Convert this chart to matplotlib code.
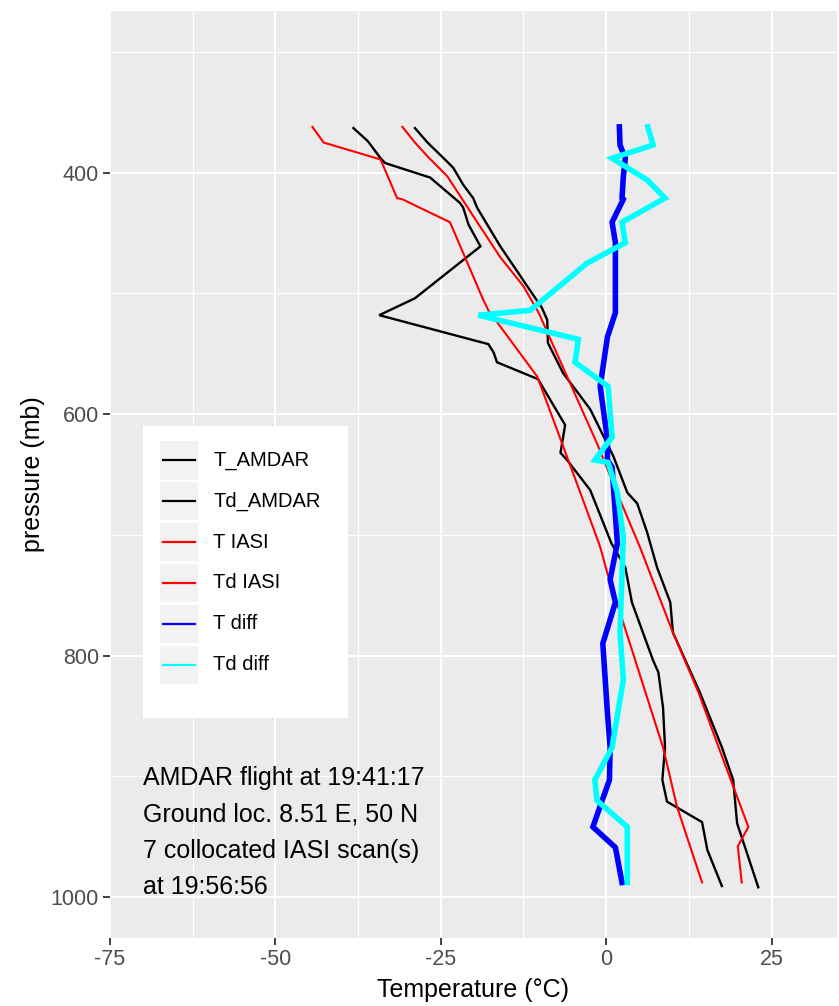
import matplotlib
matplotlib.use("Agg")
import matplotlib.pyplot as plt
from matplotlib.patches import Rectangle
from matplotlib.lines import Line2D

plt.rcParams['font.family'] = ['Liberation Sans', 'DejaVu Sans']
plt.rcParams['axes.unicode_minus'] = False

# ---- profiles (pressure in mb, temperature in degC) ----
p_t_amdar = [363, 375, 391, 396, 410, 421, 429, 461, 512, 522, 541, 566, 596,
             635, 665, 674, 698, 727, 756, 781, 831, 876, 903, 939, 992]
t_amdar = [-28.9, -27.0, -24.0, -23.1, -21.6, -20.1, -19.5, -16.0, -9.7, -8.9,
           -8.8, -6.5, -2.4, 1.1, 3.2, 4.7, 6.2, 7.7, 9.7, 10.1, 14.2, 17.5,
           19.2, 19.8, 23.0]

p_td_amdar = [363, 374, 388, 392, 404, 425, 429, 443, 461, 504, 518, 542, 549,
              557, 571, 609, 632, 638, 663, 707, 727, 756, 804, 814, 843, 876,
              903, 921, 938, 961, 991]
td_amdar = [-38.2, -36.0, -34.1, -33.4, -26.6, -22.1, -21.6, -20.8, -19.0,
            -28.9, -34.3, -17.8, -17.0, -16.5, -10.3, -6.2, -6.9, -5.9, -2.4,
            0.8, 2.9, 3.9, 7.1, 7.9, 8.6, 8.9, 8.5, 9.2, 14.5, 15.3, 17.5]

p_t_iasi = [362, 375, 387, 403, 440, 470, 494, 516, 570, 624, 671, 710, 781,
            831, 870, 942, 958, 988]
t_iasi = [-30.8, -28.9, -26.9, -24.0, -19.6, -16.0, -12.5, -10.2, -5.8, -1.4,
          2.1, 5.1, 10.1, 14.0, 16.6, 21.5, 19.9, 20.5]

p_td_iasi = [362, 375, 389, 421, 422, 441, 505, 514, 569, 671, 710, 732, 773,
             876, 925, 988]
td_iasi = [-44.4, -42.7, -34.1, -31.6, -30.8, -23.6, -18.6, -17.8, -10.4, -3.5,
           -0.9, 0.2, 2.6, 8.6, 10.7, 14.5]

p_t_diff = [362, 377, 388, 403, 421, 422, 441, 458, 516, 536, 577, 621, 638,
            644, 707, 737, 756, 790, 848, 876, 903, 942, 959, 988]
t_diff = [2.0, 2.1, 2.9, 2.6, 2.4, 2.6, 0.9, 1.4, 1.4, 0.2, -0.9, 0.2, 0.2,
          0.9, 1.7, 0.6, 1.4, -0.5, 0.2, 0.6, 0.5, -2.0, 1.4, 2.4]

p_td_diff = [362, 377, 388, 406, 421, 441, 458, 475, 505, 514, 518, 538, 557,
             577, 619, 638, 640, 665, 702, 781, 820, 876, 903, 920, 942, 988]
td_diff = [6.3, 7.1, 0.9, 6.2, 8.9, 2.4, 2.9, -2.9, -9.5, -11.5, -19.3, -4.2,
           -4.7, 0.3, 0.9, -1.7, 0.3, 1.7, 2.6, 2.1, 2.6, 0.9, -1.7, -1.4, 3.2,
           3.2]

series_names = ["T_AMDAR", "Td_AMDAR", "T IASI", "Td IASI", "T diff", "Td diff"]
series_colors = ["black", "black", "#FF0000", "#FF0000", "#0000FF", "#00FFFF"]
series_widths = [1.7, 1.7, 1.5, 1.5, 4.0, 4.0]

info_lines = ["AMDAR flight at 19:41:17", "Ground loc. 8.51 E, 50 N",
              "7 collocated IASI scan(s)", "at 19:56:56"]

x_ticks = [-75, -50, -25, 0, 25]
y_ticks = [400, 600, 800, 1000]

W, H = 839, 1006
fig = plt.figure(figsize=(W / 100, H / 100), dpi=100)


def fx(x):
    return x / W


def fy(y):
    return 1 - y / H


ax = fig.add_axes([fx(110), fy(938), 727 / W, 927 / H])
ax.set_facecolor("#EBEBEB")
for s in ax.spines.values():
    s.set_visible(False)

profiles = [(t_amdar, p_t_amdar), (td_amdar, p_td_amdar), (t_iasi, p_t_iasi),
            (td_iasi, p_td_iasi), (t_diff, p_t_diff), (td_diff, p_td_diff)]
for (xs, ps), c, lw in zip(profiles, series_colors, series_widths):
    ax.plot(xs, ps, color=c, lw=lw, solid_joinstyle="miter", zorder=3)

ax.set_xlim(-75, 34.9)
ax.set_ylim(1034, 266)
ax.set_xticks(x_ticks)
ax.set_yticks(y_ticks)
ax.set_xticks([-62.5, -37.5, -12.5, 12.5], minor=True)
ax.set_yticks([300, 500, 700, 900], minor=True)
ax.grid(which="major", color="white", lw=1.5, zorder=0)
ax.grid(which="minor", color="white", lw=0.8, zorder=0)
ax.set_axisbelow(True)
ax.tick_params(which="major", length=5, width=1.3, color="#333333",
               labelsize=15.5, labelcolor="#4D4D4D", pad=3)
ax.tick_params(which="minor", length=0)

fig.text(fx(33), fy(474), "pressure (mb)", rotation=90, ha="center",
         va="center", fontsize=18)
fig.text(fx(473), fy(990), "Temperature (°C)", ha="center", va="center",
         fontsize=18)

# info block in the lower-left corner of the panel
for i, line in enumerate(info_lines):
    fig.text(fx(143), fy(785 + i * 36.3), line, ha="left", va="baseline",
             fontsize=18)

# legend box with grey key backgrounds
fig.add_artist(Rectangle((fx(143), fy(718)), (348 - 143) / W, (718 - 426) / H,
                         transform=fig.transFigure, facecolor="white",
                         edgecolor="none", zorder=5))
for i, (name, c) in enumerate(zip(series_names, series_colors)):
    top = 441 + i * 40.9
    fig.add_artist(Rectangle((fx(160), fy(top + 38.5)), 38 / W, 38.5 / H,
                             transform=fig.transFigure, facecolor="#F2F2F2",
                             edgecolor="none", zorder=6))
    yc = top + 19.3
    fig.add_artist(Line2D([fx(163), fx(195)], [fy(yc), fy(yc)],
                          transform=fig.transFigure, color=c, lw=1.6,
                          zorder=7))
    fig.text(fx(213), fy(yc), name, ha="left", va="center", fontsize=14.5,
             zorder=7)

fig.savefig("out.png", dpi=100)
